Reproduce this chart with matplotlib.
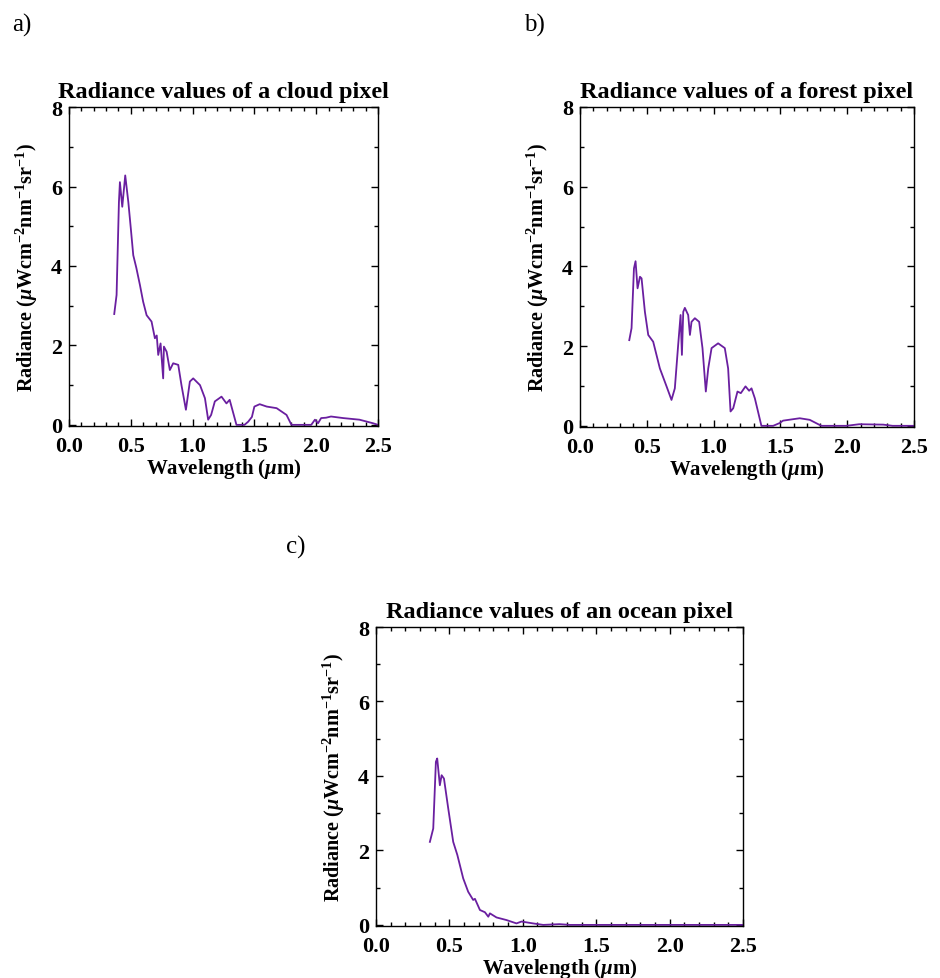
import matplotlib
matplotlib.use('Agg')
import matplotlib.pyplot as plt
from matplotlib.ticker import MultipleLocator

plt.rcParams['font.family'] = ['Liberation Serif', 'DejaVu Serif']
plt.rcParams['mathtext.fontset'] = 'custom'
plt.rcParams['mathtext.rm'] = 'Liberation Serif:bold'
plt.rcParams['mathtext.it'] = 'Liberation Serif:italic:bold'
plt.rcParams['mathtext.bf'] = 'Liberation Serif:bold'

# cloud pixel spectrum
cloud_wl = [0.366, 0.385, 0.404, 0.412, 0.431, 0.455, 0.48, 0.50, 0.52, 0.545, 0.574, 0.60,
            0.628, 0.668, 0.695, 0.71, 0.722, 0.741, 0.762, 0.768, 0.79, 0.816, 0.843, 0.884,
            0.91, 0.946, 0.978, 1.005, 1.06, 1.10, 1.126, 1.15, 1.18, 1.234, 1.274, 1.30,
            1.355, 1.42, 1.45, 1.48, 1.50, 1.543, 1.60, 1.68, 1.76, 1.80, 1.96, 1.99,
            2.015, 2.04, 2.08, 2.12, 2.22, 2.35, 2.46, 2.5]
cloud_rad = [2.79, 3.27, 5.61, 6.11, 5.49, 6.28, 5.61, 4.95, 4.27, 3.95, 3.52, 3.10,
             2.76, 2.6, 2.18, 2.25, 1.76, 2.05, 1.17, 1.97, 1.84, 1.38, 1.55, 1.51,
             1.0, 0.38, 1.09, 1.17, 1.0, 0.67, 0.13, 0.25, 0.59, 0.71, 0.54, 0.63,
             0.0, 0.0, 0.08, 0.2, 0.46, 0.52, 0.46, 0.42, 0.25, 0.0, 0.0, 0.13,
             0.04, 0.17, 0.18, 0.21, 0.17, 0.13, 0.04, 0.0]

# forest pixel spectrum
forest_wl = [0.369, 0.386, 0.404, 0.416, 0.431, 0.449, 0.461, 0.486, 0.511, 0.548, 0.598, 0.648,
             0.685, 0.71, 0.735, 0.753, 0.763, 0.773, 0.785, 0.81, 0.823, 0.835, 0.86, 0.892,
             0.917, 0.942, 0.96, 0.985, 1.034, 1.084, 1.109, 1.127, 1.147, 1.179, 1.204, 1.239,
             1.266, 1.284, 1.309, 1.358, 1.446, 1.495, 1.52, 1.645, 1.72, 1.807, 1.994, 2.09,
             2.27, 2.34, 2.5]
forest_rad = [2.15, 2.45, 3.95, 4.13, 3.45, 3.74, 3.70, 2.86, 2.28, 2.11, 1.44, 0.99,
              0.65, 0.94, 2.03, 2.78, 1.78, 2.86, 2.96, 2.78, 2.28, 2.61, 2.70, 2.61,
              1.95, 0.86, 1.44, 1.95, 2.07, 1.95, 1.44, 0.36, 0.44, 0.86, 0.82, 0.99,
              0.88, 0.94, 0.69, 0.0, 0.0, 0.07, 0.13, 0.19, 0.15, 0.0, 0.0, 0.04,
              0.03, 0.0, 0.0]

# ocean pixel spectrum
ocean_wl = [0.367, 0.39, 0.408, 0.417, 0.435, 0.447, 0.463, 0.492, 0.526, 0.554, 0.594, 0.628,
            0.662, 0.674, 0.708, 0.742, 0.765, 0.776, 0.821, 0.889, 0.957, 0.991, 1.07, 1.139,
            1.25, 1.32, 2.5]
ocean_rad = [2.23, 2.59, 4.38, 4.47, 3.75, 4.02, 3.93, 3.13, 2.23, 1.88, 1.25, 0.89,
             0.67, 0.70, 0.40, 0.34, 0.22, 0.31, 0.20, 0.13, 0.04, 0.09, 0.04, 0.0,
             0.02, 0.0, 0.0]

titles = ['Radiance values of a cloud pixel', 'Radiance values of a forest pixel',
          'Radiance values of an ocean pixel']

fig = plt.figure(figsize=(9.4, 9.79), dpi=100)
axes = [fig.add_axes([0.0734, 0.5638, 0.3287, 0.3258]),
        fig.add_axes([0.617, 0.5628, 0.3553, 0.3269]),
        fig.add_axes([0.40, 0.0531, 0.3904, 0.3054])]
data = [(cloud_wl, cloud_rad), (forest_wl, forest_rad), (ocean_wl, ocean_rad)]

for ax, (wl, rad), title in zip(axes, data, titles):
    ax.plot(wl, rad, color='#6a1fa0', lw=1.3)
    ax.set_xlim(0, 2.5)
    ax.set_ylim(-0.03, 8)
    ax.xaxis.set_major_locator(MultipleLocator(0.5))
    ax.xaxis.set_minor_locator(MultipleLocator(0.1))
    ax.yaxis.set_major_locator(MultipleLocator(2))
    ax.yaxis.set_minor_locator(MultipleLocator(1))
    ax.xaxis.set_major_formatter(plt.FormatStrFormatter('%.1f'))
    ax.tick_params(which='both', direction='in', top=True, right=True, width=1)
    ax.tick_params(which='major', length=5, labelsize=16)
    ax.tick_params(axis='x', which='major', pad=7)
    ax.tick_params(axis='y', which='major', pad=5)
    ax.tick_params(which='minor', length=3)
    for lab in ax.get_xticklabels() + ax.get_yticklabels():
        lab.set_fontweight('bold')
    for sp in ax.spines.values():
        sp.set_linewidth(1)
    ax.set_title(title, fontsize=17.5, fontweight='bold', pad=7)
    ax.set_xlabel(r'Wavelength ($\mu$m)', fontsize=15, fontweight='bold', labelpad=0)
    ax.set_ylabel(r'Radiance ($\mu$Wcm$^{-2}$nm$^{-1}$sr$^{-1}$)', fontsize=14.5,
                  fontweight='bold', labelpad=8)

fig.text(12 / 940, 1 - 32 / 979, 'a)', fontsize=18)
fig.text(524 / 940, 1 - 32 / 979, 'b)', fontsize=18)
fig.text(286 / 940, 1 - 554 / 979, 'c)', fontsize=18)

fig.savefig('out.png', dpi=100)
